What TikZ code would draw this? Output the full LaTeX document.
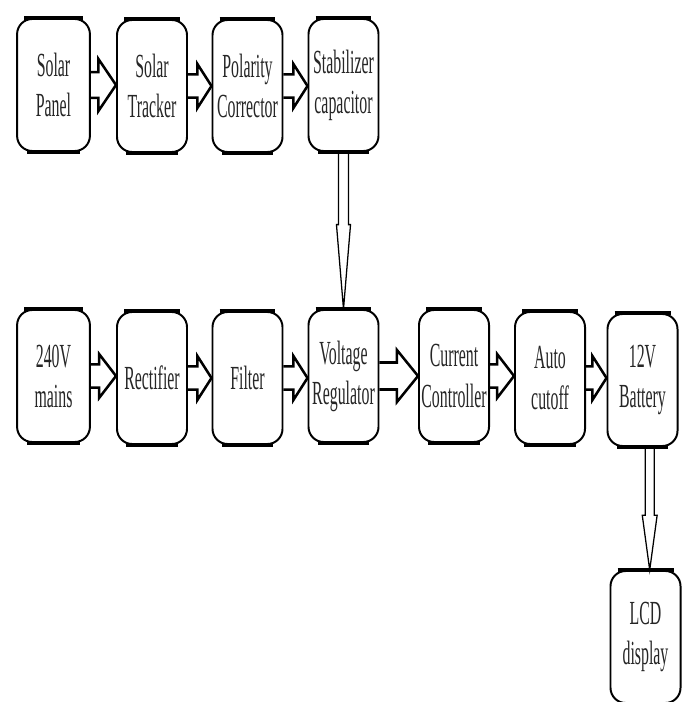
\documentclass[tikz,border=0pt]{standalone}
\usepackage{fontspec}
\newfontfamily\narrowserif[FakeStretch=0.47]{Liberation Serif}
\usetikzlibrary{calc}

\begin{document}
\begin{tikzpicture}[x=0.025cm, y=-0.025cm,
  box/.style={draw, line width=1.4pt, rounded corners=0.38cm, minimum width=1.75cm, minimum height=3.3cm,
    inner sep=1pt, align=center, text=black!85, font=\narrowserif\fontsize{24pt}{28.5pt}\selectfont,
    append after command={\pgfextra{\let\boxnode\tikzlastnode}
      (\boxnode.north west) edge[line width=3.4pt, shorten <=0.2cm, shorten >=0.2cm] (\boxnode.north east)
      (\boxnode.south west) edge[line width=2.4pt, shorten <=0.26cm, shorten >=0.26cm] (\boxnode.south east)}},
  fatarrow/.style n args={3}{line width=1.8pt, to path={let \p1=(\tikztostart), \p2=(\tikztotarget) in
    (\x1,\y1+#1) -- (\x2-#3,\y1+#1) -- (\x2-#3,\y1+#2) -- (\x2,\y1) -- (\x2-#3,\y1-#2) -- (\x2-#3,\y1-#1) -- (\x1,\y1-#1)}},
  fatdown/.style n args={3}{line width=0.9pt, to path={let \p1=(\tikztostart), \p2=(\tikztotarget) in
    (\x1-#1,\y1) -- (\x1-#1,\y2+#3) -- (\x1-#2,\y2+#3) -- (\x1,\y2) -- (\x1+#2,\y2+#3) -- (\x1+#1,\y2+#3) -- (\x1+#1,\y1)}}]
\useasboundingbox (0,0) rectangle (689,702);

% solar branch
\node[box, minimum width=1.82cm] (sp) at (53.5,85) {Solar\\Panel};
\node[box] (st) at (152,86) {Solar\\Tracker};
\node[box] (pc) at (247.5,86) {Polarity\\Corrector};
\node[box] (sc) at (343.5,85) {Stabilizer\\capacitor};

% mains branch
\node[box, minimum width=1.82cm] (mains) at (53.5,376) {240V\\mains};
\node[box] (rect) at (152,378) {Rectifier};
\node[box] (filter) at (247.5,378) {Filter};
\node[box] (vr) at (343.5,376) {Voltage\\Regulator};
\node[box] (cc) at (454,376) {Current\\Controller};
\node[box] (ac) at (550,378) {Auto\\cutoff};
\node[box] (bat) at (642.5,380) {12V\\Battery};
\node[box] (lcd) at (645.5,637) {LCD\\display};

\draw[fatarrow={9.2pt}{18.5pt}{12.5pt}] (sp.east) to (st.west);
\draw[fatarrow={8.2pt}{15.6pt}{10pt}] (st.east) to (pc.west);
\draw[fatarrow={8.2pt}{15.6pt}{10pt}] (pc.east) to (sc.west);
\draw[fatdown={3.5pt}{5pt}{60pt}] (sc.south) to (vr.north);

\draw[fatarrow={8.2pt}{15.6pt}{12pt}] (mains.east) to (rect.west);
\draw[fatarrow={8.2pt}{15.6pt}{10pt}] (rect.east) to (filter.west);
\draw[fatarrow={8.2pt}{15.6pt}{10pt}] (filter.east) to (vr.west);
\draw[fatarrow={9.6pt}{18.5pt}{15pt}] (vr.east) to (cc.west);
\draw[fatarrow={8.2pt}{15.6pt}{12pt}] (cc.east) to (ac.west);
\draw[fatarrow={8.2pt}{15.6pt}{10pt}] (ac.east) to (bat.west);
\draw[fatdown={3.2pt}{5.3pt}{39pt}] ([xshift=0.18cm]bat.south) to (lcd.north);
\end{tikzpicture}
\end{document}
